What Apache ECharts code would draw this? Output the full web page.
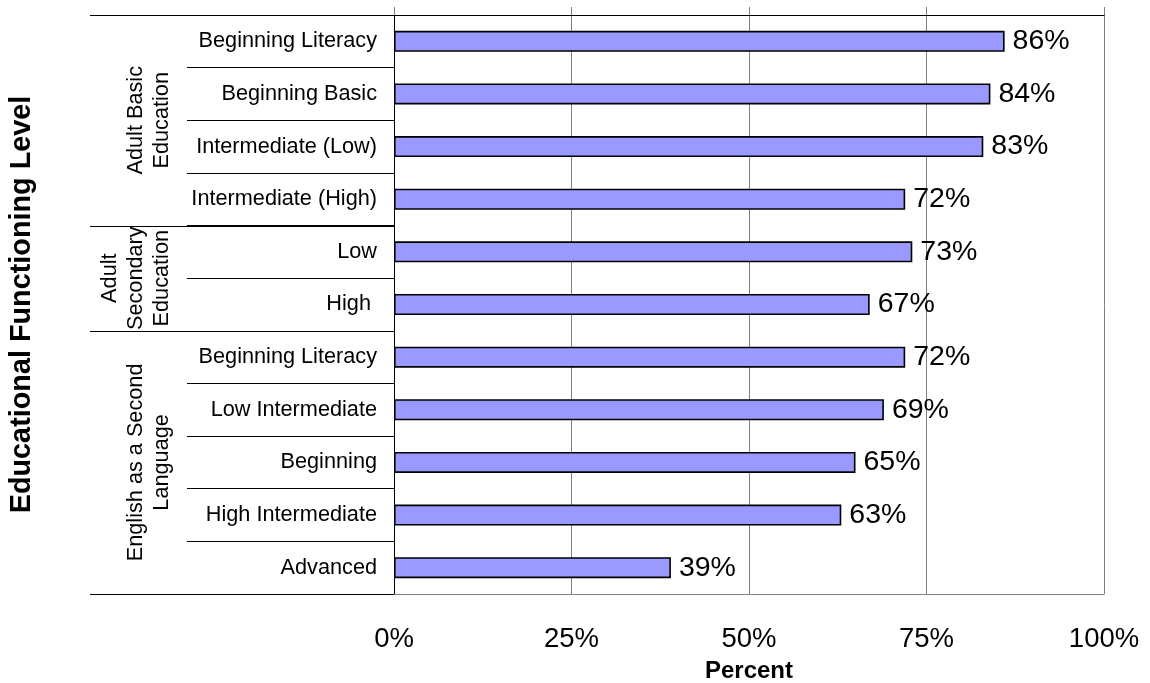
<!DOCTYPE html>
<html>
<head>
<meta charset="utf-8">
<script src="https://cdn.jsdelivr.net/npm/echarts@6/dist/echarts.min.js"></script>
<style>
html,body{margin:0;padding:0;background:#fff;}
#chart{width:1150px;height:683px;}
</style>
</head>
<body>
<div id="chart"></div>
<script>
// ---- data ----
const categories = [
  'Beginning Literacy', 'Beginning Basic', 'Intermediate (Low)', 'Intermediate (High)',
  'Low', 'High ',
  'Beginning Literacy ', 'Low Intermediate', 'Beginning', 'High Intermediate', 'Advanced'
];
const values = [86, 84, 83, 72, 73, 67, 72, 69, 65, 63, 39];
const groupLabels = ['Adult Basic\nEducation', 'Adult\nSecondary\nEducation', 'English as a Second\nLanguage'];
const groupSizes = [4, 2, 5];
const xTickValues = [0, 25, 50, 75, 100];
const xAxisTitle = 'Percent';
const yAxisTitle = 'Educational Functioning Level';

const FONT = '"Liberation Sans", Arial, Helvetica, sans-serif';
const chart = echarts.init(document.getElementById('chart'));

const option = {
  animation: false,
  backgroundColor: '#fff',
  textStyle: { fontFamily: FONT },
  grid: { left: 394, right: 46, top: 15, bottom: 89, containLabel: false, outerBoundsMode: 'none' },
  xAxis: [
    {
      type: 'value', position: 'bottom', min: xTickValues[0], max: xTickValues[xTickValues.length - 1], interval: 25,
      axisLine: { show: true, lineStyle: { color: '#808080', width: 1 } },
      axisTick: { show: false },
      splitLine: { show: true, lineStyle: { color: '#808080', width: 1 } },
      axisLabel: { formatter: '{value}%', fontSize: 27.5, color: '#000', margin: 31, fontFamily: FONT },
      name: xAxisTitle, nameLocation: 'middle', nameGap: 65,
      nameTextStyle: { fontSize: 24, fontWeight: 'bold', color: '#000', fontFamily: FONT }
    },
    {
      type: 'value', position: 'top', min: xTickValues[0], max: xTickValues[xTickValues.length - 1], interval: 25,
      axisLine: { show: true, lineStyle: { color: '#000', width: 1 } },
      axisTick: { show: true, inside: false, length: 8, lineStyle: { color: '#808080', width: 1 } },
      axisLabel: { show: false },
      splitLine: { show: false }
    }
  ],
  yAxis: {
    type: 'category', data: categories, inverse: true,
    axisLine: { show: true, lineStyle: { color: '#000', width: 1 } },
    axisTick: { show: true, inside: false, length: 207, interval: 0, lineStyle: { color: '#000', width: 1 } },
    axisLabel: {
      fontSize: 21.7, color: '#000', margin: 17, fontFamily: FONT, interval: 0,
      formatter: v => (v.trim() === 'High' ? 'High\u00a0' : v.trim())
    },
    splitLine: { show: false }
  },
  series: [{
    type: 'bar', data: values, barWidth: 21, xAxisIndex: 0,
    itemStyle: { color: '#9999FF', borderColor: '#000', borderWidth: 1.6 },
    label: { show: true, position: 'right', distance: 8, formatter: '{c}%', fontSize: 28.5, color: '#000', fontFamily: FONT }
  }]
};
chart.setOption(option);

// group separators and group labels, derived from the category scale
const c0 = chart.convertToPixel({ yAxisIndex: 0 }, 0);
const c1 = chart.convertToPixel({ yAxisIndex: 0 }, 1);
const band = c1 - c0;
const axisX = chart.convertToPixel({ xAxisIndex: 0 }, 0);
const graphics = [];
let idx = 0;
const boundaries = [0];
groupSizes.forEach(s => { idx += s; boundaries.push(idx); });
boundaries.forEach(b => {
  const y = Math.round(c0 - band / 2 + b * band) + 0.5;
  graphics.push({ type: 'line', shape: { x1: 90, y1: y, x2: axisX, y2: y }, style: { stroke: '#000', lineWidth: 1 }, silent: true });
});
groupLabels.forEach((g, i) => {
  const yTop = c0 - band / 2 + boundaries[i] * band;
  const yBot = c0 - band / 2 + boundaries[i + 1] * band;
  graphics.push({
    type: 'text', x: 175, y: (yTop + yBot) / 2, rotation: Math.PI / 2,
    style: { text: g, font: '21.7px ' + FONT, fill: '#000', textAlign: 'center', textVerticalAlign: 'bottom', lineHeight: 26 },
    silent: true
  });
});
const plotTop = c0 - band / 2;
const plotBot = c0 - band / 2 + categories.length * band;
graphics.push({
  type: 'text', x: 22, y: (plotTop + plotBot) / 2, rotation: Math.PI / 2,
  style: { text: yAxisTitle, font: 'bold 28.8px ' + FONT, fill: '#000', textAlign: 'center', textVerticalAlign: 'middle' },
  silent: true
});
chart.setOption({ graphic: graphics });
</script>
</body>
</html>
